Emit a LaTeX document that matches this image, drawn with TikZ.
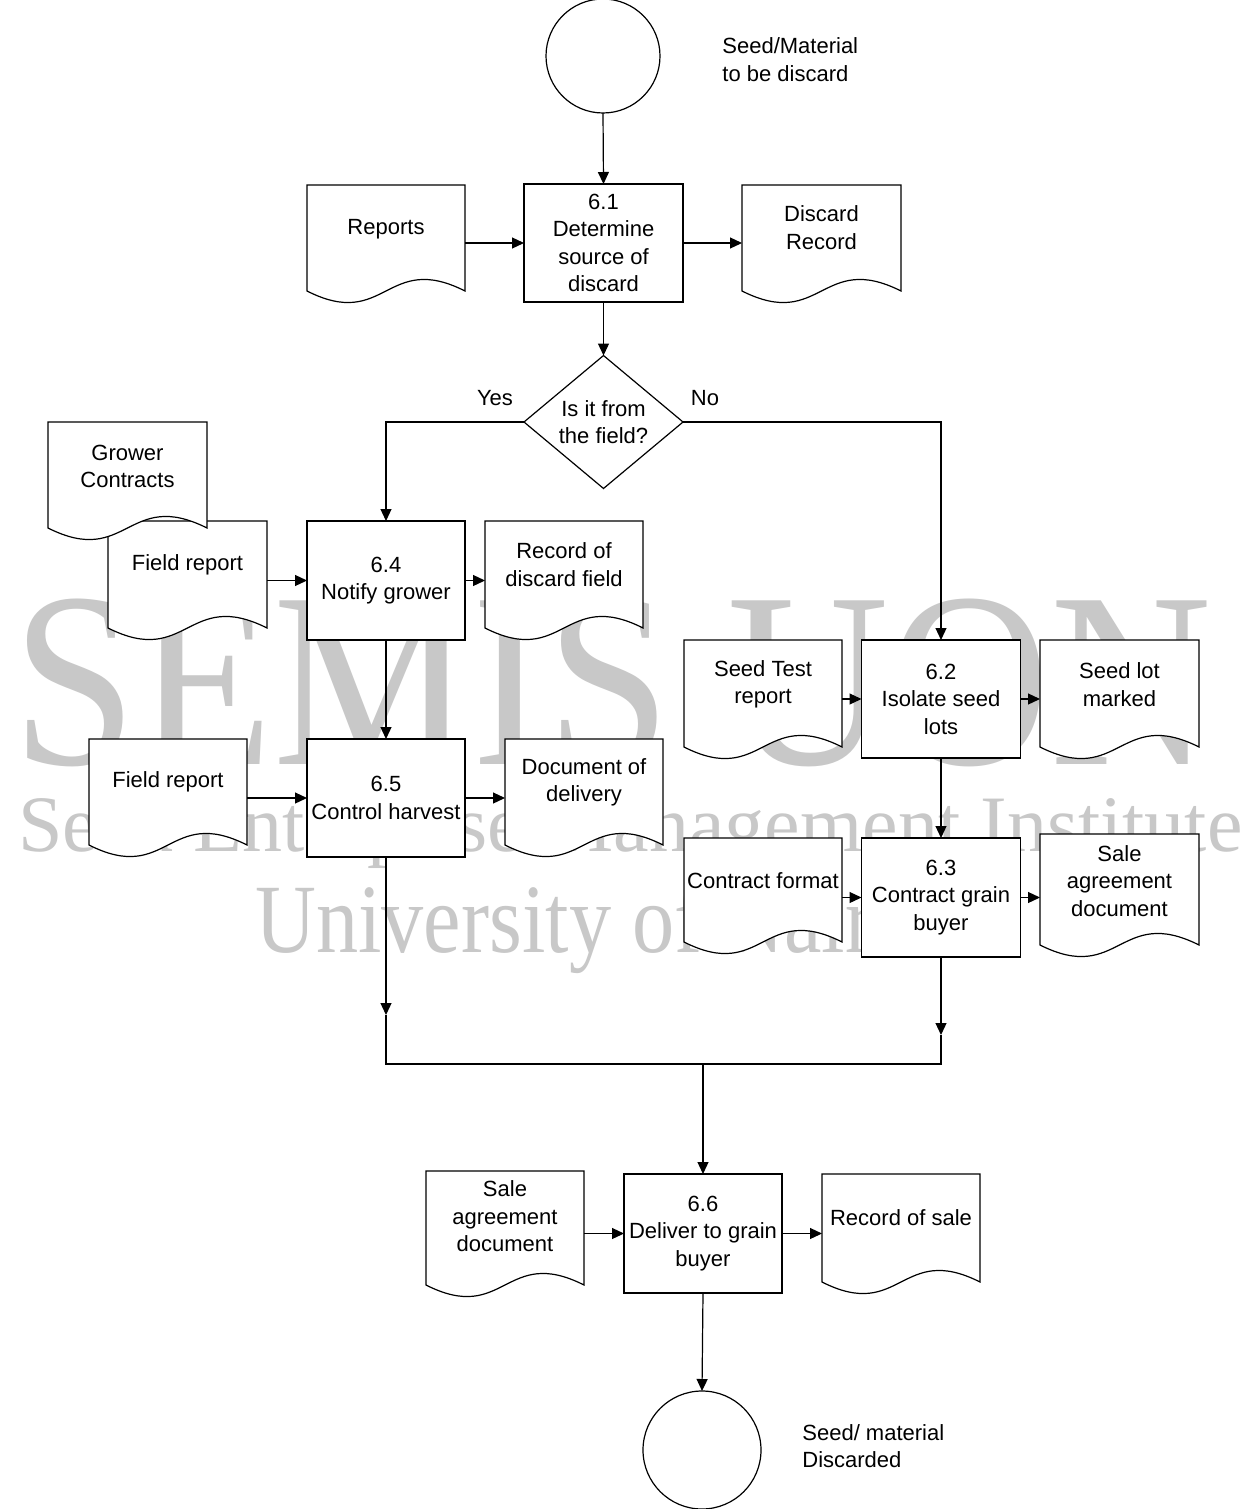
\documentclass[tikz,border=0pt]{standalone}
\usepackage{fontspec}
\setmainfont{Liberation Sans}
\newfontfamily\wmfont{Liberation Serif}
\usetikzlibrary{shapes.geometric,arrows.meta,calc}
\pgfdeclarelayer{wm}
\pgfdeclarelayer{bg}
\pgfsetlayers{wm,bg,main}
\definecolor{wmgray}{RGB}{200,200,200}
\tikzset{
  lbl/.style={font=\fontsize{11pt}{13.75pt}\selectfont, align=center, inner sep=0pt},
  proc/.style={lbl, rectangle, draw, fill=white, line width=0.6pt, outer sep=0pt},
  docarea/.style={rectangle, inner sep=0pt, outer sep=0pt, draw=none},
  docline/.style={draw, fill=white, line width=0.6pt},
  arr/.style={line width=0.6pt, -{Triangle[length=6pt,width=5.5pt]}},
  conn/.style={line width=0.6pt},
  term/.style={circle, draw, fill=white, line width=0.6pt, inner sep=0pt, outer sep=0pt},
  decide/.style={lbl, diamond, draw, fill=white, line width=0.6pt, outer sep=0pt,
    minimum width=79.5pt, minimum height=59pt},
  wmtext/.style={text=wmgray, inner sep=0pt, anchor=base west},
}
% name, x0, y0, x1, yb, text-y, text
\newcommand{\docshape}[7]{%
  \begin{pgfonlayer}{bg}
    \path[docline] (#2,#3) -- (#4,#3) -- (#4,#5)
      .. controls ({(#2+#4)/2},{#5-40}) and ({(#2+#4)/2},{#5+40}) .. (#2,#5) -- cycle;
  \end{pgfonlayer}
  \node[docarea, minimum width={(#4-#2)*0.5pt}, minimum height={(#5-#3)*0.5pt}]
    (#1) at ({(#2+#4)/2},{(#3+#5)/2}) {};
  \node[lbl] (#1t) at ({(#2+#4)/2},#6) {#7};
}
\begin{document}
\begin{tikzpicture}[x=0.5pt,y=-0.5pt]
\useasboundingbox (0,0) rectangle (1240,1509);

% watermark
\begin{pgfonlayer}{wm}
  \fill[white] (0,0) rectangle (1240,1509);
  \node[wmtext, font=\wmfont\fontsize{125pt}{125pt}\selectfont, xscale=0.895] (wm1) at (12,764) {SEMIS UON};
  \node[wmtext, font=\wmfont\fontsize{40pt}{40pt}\selectfont] (wm2) at (18,851) {Seed Enterprise Management Institute};
  \node[wmtext, font=\wmfont\fontsize{49pt}{49pt}\selectfont, xscale=0.86] (wm3) at (255,952) {University of Nairobi};
\end{pgfonlayer}

% terminals
\node[term, minimum size=57pt] (start) at (603,56) {};
\node[lbl, align=left, anchor=west] (startl) at (722,59.5) {Seed/Material\\to be discard};
\node[term, minimum size=59pt] (endc) at (702,1450) {};
\node[lbl, align=left, anchor=west] (endl) at (802,1446) {Seed/ material\\Discarded};

% process boxes
\node[proc, minimum width=79.5pt, minimum height=59pt] (p61) at (603.5,243) {6.1\\Determine\\source of\\discard};
\node[proc, minimum width=79pt, minimum height=59.5pt] (p64) at (386,580.5) {6.4\\Notify grower};
\node[proc, minimum width=79pt, minimum height=59pt] (p65) at (386,798) {6.5\\Control harvest};
\node[proc, minimum width=79.5pt, minimum height=59pt] (p62) at (941,699) {6.2\\Isolate seed\\lots};
\node[proc, minimum width=79.5pt, minimum height=59.5pt] (p63) at (941,897.5) {6.3\\Contract grain\\buyer};
\node[proc, minimum width=79pt, minimum height=59.5pt] (p66) at (703,1233.5) {6.6\\Deliver to grain\\buyer};

% decision
\node[decide] (dec) at (603.5,422) {Is it from\\the field?};
\node[lbl] (yes) at (495,398) {Yes};
\node[lbl] (no) at (705,398) {No};

% documents
\docshape{rep}{307}{185}{465}{291}{229}{Reports}
\docshape{dcr}{742}{185}{901}{291}{227.5}{Discard\\Record}
\docshape{fra}{108}{521}{267}{628}{565}{Field report}
\docshape{grc}{48}{422}{207}{528}{466.5}{Grower\\Contracts}
\docshape{rdf}{485}{521}{643}{628}{564.5}{Record of\\discard field}
\docshape{frb}{89}{739}{247}{845}{782}{Field report}
\docshape{dod}{505}{739}{663}{845}{782.5}{Document of\\delivery}
\docshape{str}{684}{640}{842}{747}{684.5}{Seed Test\\report}
\docshape{slm}{1040}{640}{1199}{747}{684.5}{Seed lot\\marked}
\docshape{cfm}{684}{838}{842}{942}{881}{Contract format}
\docshape{saa}{1040}{834}{1199}{945}{881}{Sale\\agreement\\document}
\docshape{sab}{426}{1171}{584}{1285}{1216.5}{Sale\\agreement\\document}
\docshape{ros}{822}{1174}{980}{1282}{1218}{Record of sale}

% connectors
\draw[arr] (start.south) -- (p61.north);
\draw[arr] (rep.east |- p61.west) -- (p61.west);
\draw[arr] (p61.east) -- (p61.east -| dcr.west);
\draw[arr] (p61.south) -- (dec.north);
\draw[arr] (dec.west) -| (p64.north);
\draw[arr] (dec.east) -| (p62.north);
\draw[arr] (fra.east |- p64.west) -- (p64.west);
\draw[arr] (p64.east) -- (p64.east -| rdf.west);
\draw[arr] (p64.south) -- (p65.north);
\draw[arr] (frb.east |- p65.west) -- (p65.west);
\draw[arr] (p65.east) -- (p65.east -| dod.west);
\draw[arr] (str.east |- p62.west) -- (p62.west);
\draw[arr] (p62.east) -- (p62.east -| slm.west);
\draw[arr] (p62.south) -- (p63.north);
\draw[arr] (cfm.east |- p63.west) -- (p63.west);
\draw[arr] (p63.east) -- (p63.east -| saa.west);

\coordinate (aL) at (386,1015);
\coordinate (jL) at (386,1064);
\coordinate (jM) at (703,1064);
\coordinate (aR) at (941,1035);
\coordinate (jR) at (941,1064);
\draw[arr] (p65.south) -- (aL);
\draw[conn] (aL) -- (jL) -- (jM);
\draw[arr] (p63.south) -- (aR);
\draw[conn] (aR) -- (jR) -- (jM);
\draw[arr] (jM) -- (p66.north);

\draw[arr] (sab.east |- p66.west) -- (p66.west);
\draw[arr] (p66.east) -- (p66.east -| ros.west);
\draw[arr] (p66.south) -- (endc.north);
\end{tikzpicture}
\end{document}
